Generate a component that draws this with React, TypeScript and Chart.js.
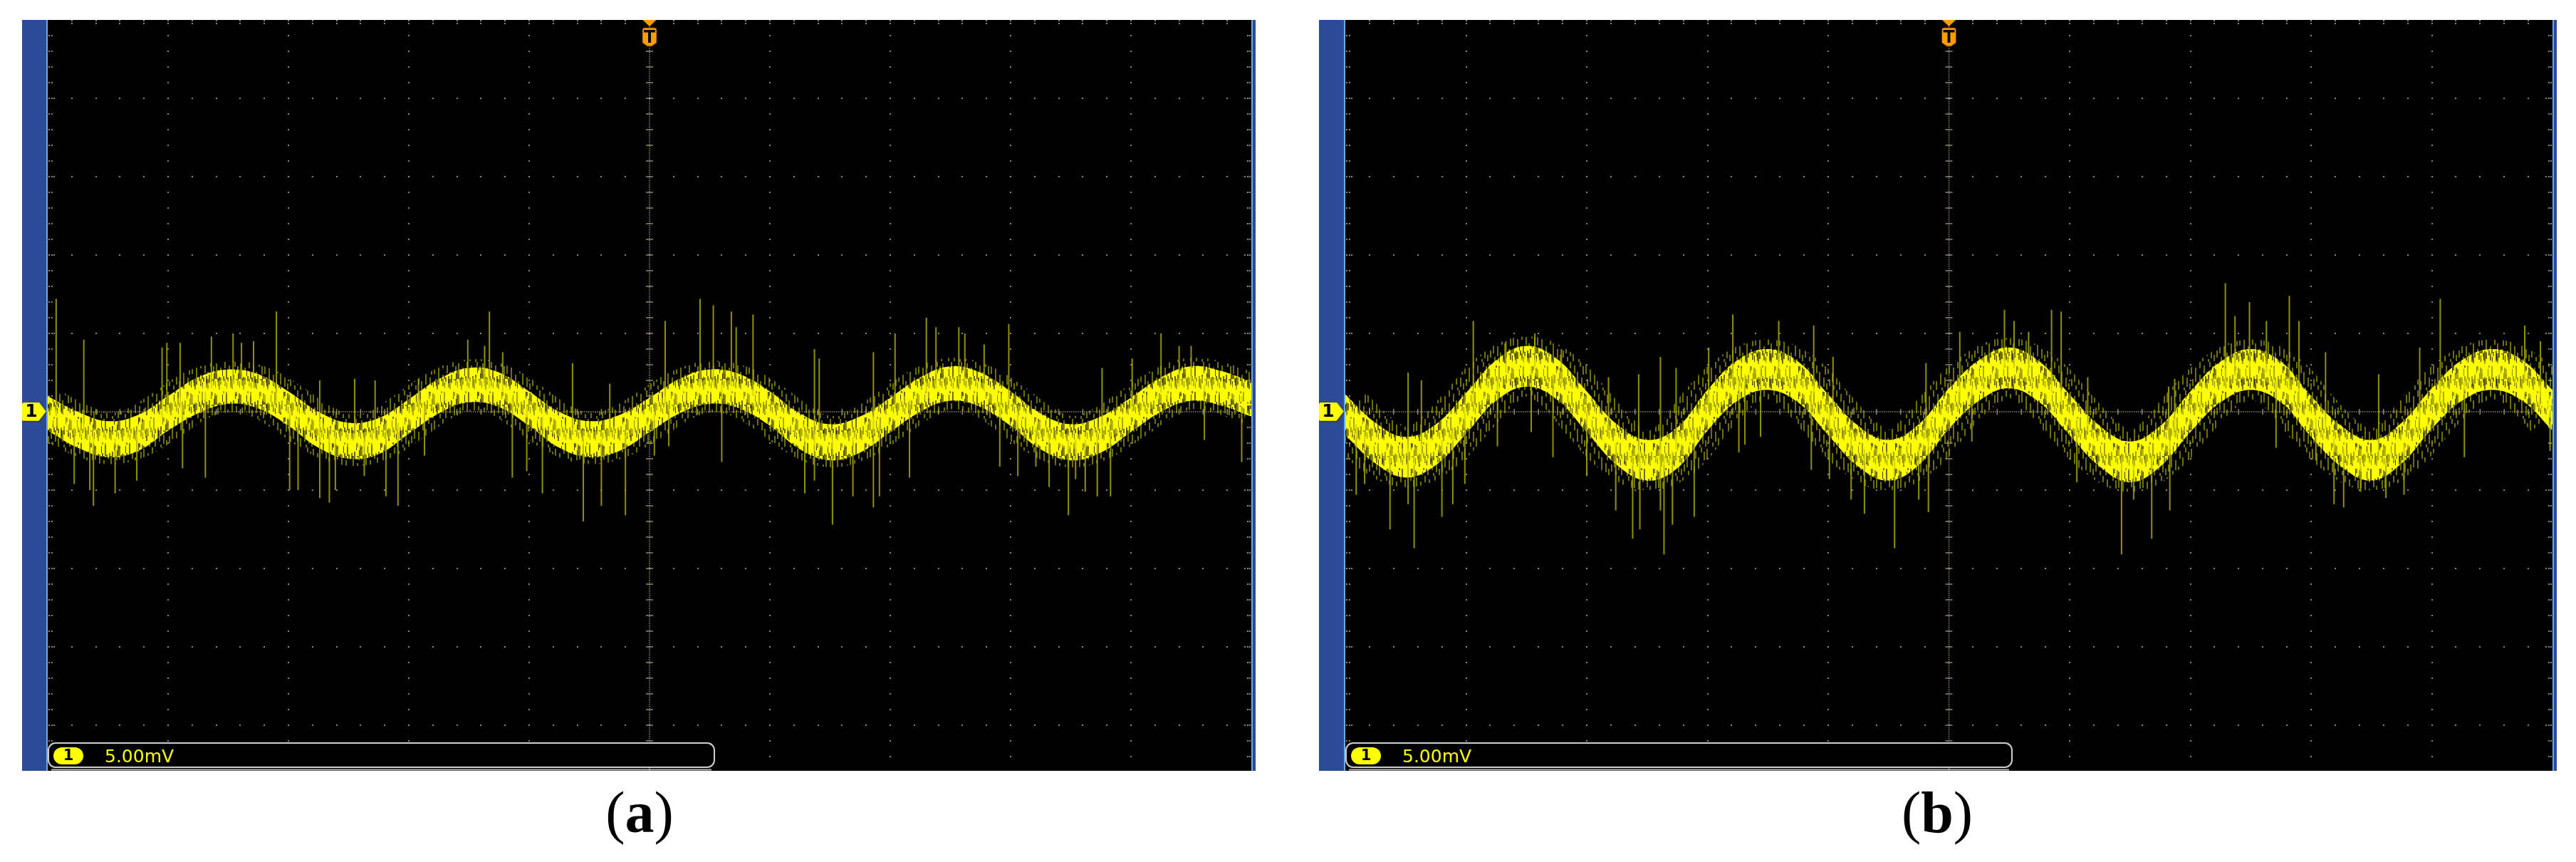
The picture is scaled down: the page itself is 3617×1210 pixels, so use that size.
import React, { useEffect, useRef } from "react";
import { Chart, registerables } from "chart.js";

Chart.register(...registerables);

// ---------------- data (x in divisions, y in mV; 5 mV/div) ----------------
const SAMPLE_X = [0, 0.25, 0.5, 0.75, 1, 1.25, 1.5, 1.75, 2, 2.25, 2.5, 2.75, 3, 3.25, 3.5, 3.75, 4, 4.25, 4.5, 4.75, 5, 5.25, 5.5, 5.75, 6, 6.25, 6.5, 6.75, 7, 7.25, 7.5, 7.75, 8, 8.25, 8.5, 8.75, 9, 9.25, 9.5, 9.75, 10];

// panel (a)
const A_CENTER = [-0.1, -1.1, -1.7, -1.3, -0.1, 1.1, 1.6, 1.3, 0.2, -1.1, -1.8, -1.5, -0.3, 1.0, 1.7, 1.4, 0.2, -1.1, -1.7, -1.3, -0.2, 1.0, 1.6, 1.3, 0.2, -1.2, -1.9, -1.4, -0.2, 1.1, 1.8, 1.4, 0.2, -1.2, -1.9, -1.4, -0.2, 1.1, 1.8, 1.5, 0.8];
const A_UPPER = [1.0, 0.0, -0.6, -0.2, 1.0, 2.2, 2.7, 2.4, 1.3, 0.0, -0.7, -0.4, 0.8, 2.1, 2.8, 2.5, 1.3, 0.0, -0.6, -0.2, 0.9, 2.1, 2.7, 2.4, 1.3, -0.1, -0.8, -0.3, 0.9, 2.2, 2.9, 2.5, 1.3, -0.1, -0.8, -0.3, 0.9, 2.2, 2.9, 2.6, 1.9];
const A_LOWER = [-1.2, -2.3, -2.9, -2.5, -1.2, -0.1, 0.5, 0.2, -0.9, -2.3, -3.0, -2.7, -1.4, -0.1, 0.6, 0.3, -0.9, -2.3, -2.9, -2.5, -1.3, -0.1, 0.5, 0.2, -0.9, -2.4, -3.1, -2.6, -1.3, 0.0, 0.7, 0.3, -0.9, -2.4, -3.1, -2.6, -1.3, 0.0, 0.7, 0.4, -0.3];
const A_SPIKE_X = [0.07, 0.22, 0.30, 0.35, 0.38, 0.56, 0.74, 0.95, 0.99, 1.10, 1.12, 1.31, 1.36, 1.54, 1.61, 1.71, 1.90, 2.01, 2.08, 2.26, 2.34, 2.39, 2.55, 2.63, 2.72, 2.81, 2.91, 3.08, 3.13, 3.49, 3.63, 3.67, 3.78, 3.86, 3.98, 4.11, 4.36, 4.45, 4.60, 4.67, 4.80, 5.04, 5.13, 5.16, 5.42, 5.53, 5.60, 5.68, 5.72, 5.86, 6.29, 6.37, 6.41, 6.52, 6.69, 6.86, 6.91, 7.04, 7.16, 7.30, 7.38, 7.57, 7.62, 7.78, 7.91, 7.985, 8.06, 8.21, 8.32, 8.48, 8.54, 8.62, 8.72, 8.76, 8.83, 9.01, 9.25, 9.40, 9.50, 9.61, 9.92];
const A_SPIKE_TOP = [7.2, -1.0, 4.6, -1.5, -1.6, -1.7, -1.3, 4.1, 4.4, 4.4, 0.5, 1.3, 4.8, 5.0, 4.4, 4.5, 6.4, 0.0, -0.4, 2.0, -1.4, -1.5, 2.1, -1.7, 2.0, -1.2, -0.7, 2.1, 0.4, 4.6, 4.2, 6.4, 3.8, 0.9, 0.4, -0.3, 3.1, -1.6, -1.7, 1.8, -1.5, -0.1, 5.8, 0.6, 7.2, 6.8, 1.7, 6.4, 5.4, 6.2, -1.2, 4.0, 3.4, -1.8, -1.6, 3.8, -0.7, 5.0, 0.8, 6.0, 5.4, 5.4, 5.0, 4.3, 0.6, 5.6, -0.2, -1.0, -1.4, -1.8, -1.8, -1.8, -1.6, 2.8, -1.2, 3.4, 5.0, 4.2, 4.2, 1.7, 1.0];
const A_SPIKE_BOTTOM = [-0.3, -4.6, -1.3, -5.0, -6.0, -5.2, -4.4, -0.4, -0.1, 0.4, -3.6, -4.2, 1.5, 1.7, 1.7, 1.5, 0.6, -5.0, -5.0, -5.5, -5.8, -5.0, -1.7, -4.1, -1.4, -5.4, -6.0, 0.1, -2.8, 1.7, 1.6, 1.5, 1.3, -4.2, -3.8, -5.2, -1.4, -7.0, -6.0, -1.6, -6.6, -2.8, 0.5, -2.2, 1.6, 1.7, -3.2, 1.6, 1.5, 1.0, -5.2, -4.4, -1.5, -7.2, -5.4, -6.1, -5.4, 0.2, -4.2, 1.3, 1.5, 1.8, 1.7, 1.3, -3.5, 0.2, -4.1, -3.5, -4.8, -6.6, -4.3, -5.1, -5.4, -1.5, -5.4, 0.0, 1.2, 1.6, 1.7, -1.8, -3.2];

// panel (b)
const B_CENTER = [-0.2, -2.0, -2.9, -2.1, -0.1, 2.0, 2.9, 2.1, 0.0, -2.1, -3.1, -2.3, 0.1, 2.0, 2.7, 1.9, -0.2, -2.2, -3.1, -2.1, 0.2, 2.0, 2.8, 1.9, -0.2, -2.2, -3.2, -2.2, 0.0, 1.9, 2.7, 1.9, -0.3, -2.2, -3.1, -2.0, 0.2, 2.0, 2.7, 2.0, 0.1];
const B_UPPER = [1.1, -0.7, -1.6, -0.8, 1.2, 3.3, 4.2, 3.4, 1.3, -0.8, -1.8, -1.0, 1.4, 3.3, 4.0, 3.2, 1.1, -0.9, -1.8, -0.8, 1.5, 3.3, 4.1, 3.2, 1.1, -0.9, -1.9, -0.9, 1.3, 3.2, 4.0, 3.2, 1.0, -0.9, -1.8, -0.7, 1.5, 3.3, 4.0, 3.3, 1.4];
const B_LOWER = [-1.5, -3.3, -4.2, -3.4, -1.4, 0.7, 1.6, 0.8, -1.3, -3.4, -4.4, -3.6, -1.2, 0.7, 1.4, 0.6, -1.5, -3.5, -4.4, -3.4, -1.1, 0.7, 1.5, 0.6, -1.5, -3.5, -4.5, -3.5, -1.3, 0.6, 1.4, 0.6, -1.6, -3.5, -4.4, -3.3, -1.1, 0.7, 1.4, 0.7, -1.2];
const B_SPIKE_X = [0.09, 0.16, 0.37, 0.52, 0.57, 0.63, 0.80, 0.89, 0.99, 1.06, 1.26, 1.33, 1.54, 1.57, 1.72, 1.79, 2.00, 2.18, 2.24, 2.38, 2.43, 2.44, 2.61, 2.64, 2.71, 2.74, 2.89, 3.01, 3.21, 3.26, 3.31, 3.44, 3.59, 3.86, 3.88, 4.01, 4.04, 4.19, 4.30, 4.55, 4.75, 4.81, 4.83, 5.09, 5.19, 5.46, 5.54, 5.66, 5.85, 5.93, 6.06, 6.15, 6.43, 6.53, 6.68, 6.82, 6.83, 6.87, 7.29, 7.37, 7.49, 7.63, 7.71, 7.82, 7.90, 8.04, 8.12, 8.19, 8.27, 8.41, 8.56, 8.62, 8.77, 8.90, 9.07, 9.27, 9.77, 9.90, 9.98];
const B_SPIKE_TOP = [-0.8, -1.4, -2.7, 2.5, -2.9, 2.0, -1.8, -1.0, -0.1, 5.8, 2.2, 4.5, 2.9, 5.0, 2.4, 4.0, 0.0, 2.2, -2.0, -2.7, 2.4, -2.8, 3.5, -2.8, -2.5, 2.8, -1.0, 4.1, 6.2, 2.1, 2.4, 2.9, 5.8, 1.2, 5.5, 0.0, 3.5, -1.6, -2.4, -3.0, -2.2, 3.1, -1.6, 5.1, 1.5, 6.5, 5.8, 5.1, 6.5, 6.4, -0.5, 2.2, -2.9, -3.1, -2.7, 1.6, -1.8, 2.1, 8.2, 6.1, 7.0, 5.8, 2.0, 7.4, 5.8, -0.4, 3.8, -1.7, -2.3, -3.0, 2.4, -3.0, -2.1, 4.1, 7.2, 2.0, 5.5, 4.5, 0.1];
const B_SPIKE_BOTTOM = [-5.3, -4.6, -7.5, -5.9, -8.7, -2.8, -6.7, -5.9, -4.6, 0.5, -2.2, 2.5, -1.3, 2.9, -2.9, 1.8, -4.1, -1.6, -6.3, -8.1, -2.8, -7.5, -6.3, -9.1, -7.2, -2.4, -6.7, 0.1, 1.8, -2.6, -2.1, -1.6, 2.8, -3.7, 1.1, -4.3, -0.2, -5.6, -6.5, -8.7, -5.6, -1.7, -6.4, 0.7, -1.9, 2.8, 2.8, 2.5, 1.3, 0.6, -4.5, -1.3, -9.1, -5.6, -8.1, -1.8, -6.3, -1.6, 1.7, 2.3, 2.7, 2.5, -2.3, 1.4, 0.6, -3.1, -1.1, -5.9, -6.1, -5.1, -3.0, -5.5, -5.3, -0.6, 0.6, -2.9, 1.9, 0.9, -2.5];

// text
const SCALE_LABEL = "5.00mV";
const CHANNEL_LABEL = "1";
const CAPTION_LETTERS = ["a", "b"];

// screen ranges
const X_MIN = 0;
const X_MAX = 10;
const Y_MAX = 25;
const Y_MIN = -22.91;
const TRACE_MARKER_MV = 0.45;

// ---------------- styling ----------------
const BLUE = "#2d4a98";
const LIGHT_BLUE = "#69acdf";
const DOT = "rgba(150,141,114,0.95)";
const YELLOW = "#ffff00";
const ORANGE = "#ff9c00";

// phosphor texture tiles: [x, y, length] vertical streaks (pure styling)
const HALO_TILE = { w: 34, h: 40, bg: "rgba(0,0,0,0)", color: "rgba(185,185,0,0.6)", streaks: [[0, 2, 15], [2, 24, 10], [6, 8, 20], [8, 33, 6], [12, 0, 9], [12, 18, 14], [16, 27, 12], [18, 5, 11], [22, 14, 18], [24, 36, 4], [26, 0, 7], [28, 22, 13], [30, 6, 12], [32, 30, 9]] };
const BAND_TILE = { w: 34, h: 36, bg: "rgba(150,150,0,0.72)", color: "#ffff00", streaks: [[0, 0, 22], [2, 5, 30], [4, 15, 18], [6, 8, 26], [8, 0, 36], [10, 3, 14], [10, 20, 12], [12, 10, 26], [14, 0, 18], [16, 4, 30], [18, 0, 36], [20, 12, 20], [22, 14, 22], [24, 6, 24], [26, 0, 36], [28, 2, 16], [28, 24, 12], [30, 9, 27], [32, 0, 20]] };
const BAND_GAPS = [[3, 0, 10], [9, 22, 10], [15, 5, 8], [21, 0, 9], [27, 18, 10], [31, 28, 8], [33, 3, 9]];

const CANVAS_TOP = 28;
const CANVAS_H = 1054;

interface Panel {
  center: number[];
  upper: number[];
  lower: number[];
  spikeX: number[];
  spikeTop: number[];
  spikeBottom: number[];
  canvasLeft: number;
  canvasWidth: number;
  padLeft: number;
  padRight: number;
  coreWidth: number;
  haloWidth: number;
}

const PANELS: Panel[] = [
  { center: A_CENTER, upper: A_UPPER, lower: A_LOWER, spikeX: A_SPIKE_X, spikeTop: A_SPIKE_TOP, spikeBottom: A_SPIKE_BOTTOM, canvasLeft: 31, canvasWidth: 1732, padLeft: 36, padRight: 6, coreWidth: 20, haloWidth: 72 },
  { center: B_CENTER, upper: B_UPPER, lower: B_LOWER, spikeX: B_SPIKE_X, spikeTop: B_SPIKE_TOP, spikeBottom: B_SPIKE_BOTTOM, canvasLeft: 1852, canvasWidth: 1738, padLeft: 37, padRight: 6, coreWidth: 24, haloWidth: 84 },
];

const CAPTION_CENTERS = [898, 2720];

const scopePlugin = {
  id: "scopeScreen",
  beforeDraw(chart: any) {
    const ctx = chart.ctx;
    const a = chart.chartArea;
    const w = chart.width;
    const h = chart.height;
    ctx.save();
    ctx.fillStyle = BLUE;
    ctx.fillRect(0, 0, a.left, h);
    ctx.fillRect(a.right, 0, w - a.right, h);
    ctx.fillStyle = LIGHT_BLUE;
    ctx.fillRect(a.left - 2, 0, 2, h);
    ctx.fillRect(a.right, 0, 2, h);
    ctx.fillStyle = "#000";
    ctx.fillRect(a.left, 0, a.right - a.left, h);
    ctx.restore();
  },
  beforeDatasetsDraw(chart: any) {
    const ctx = chart.ctx;
    const a = chart.chartArea;
    const xs = chart.scales.x;
    const ys = chart.scales.y;
    const px = (v: number) => xs.getPixelForValue(v);
    const py = (v: number) => ys.getPixelForValue(v);
    const dot = (x: number, y: number) => ctx.fillRect(Math.round(x - 1), Math.round(y - 1), 2, 2);
    ctx.save();
    ctx.beginPath();
    ctx.rect(a.left, a.top, a.right - a.left, a.bottom - a.top);
    ctx.clip();
    ctx.fillStyle = DOT;
    for (let d = 1; d <= 9; d++) {
      if (d === 5) continue;
      for (let mv = 24; mv >= -22; mv--) dot(px(d), py(mv));
    }
    for (let m = -4; m <= 4; m++) {
      if (m === 0) continue;
      const y = py(m * 5);
      for (let k = 1; k < 50; k++) dot(px(k * 0.2), y);
    }
    for (let k = 1; k < 50; k++) {
      const x = px(k * 0.2);
      dot(x, a.top + 1);
      dot(x, a.top + 4.5);
    }
    for (let mv = 24; mv >= -22; mv--) {
      const y = py(mv);
      dot(a.left + 2, y);
      dot(a.left + 5.5, y);
      dot(a.right - 2, y);
      dot(a.right - 5.5, y);
      if (mv % 5 === 0) {
        dot(a.left + 9, y);
        dot(a.right - 9, y);
      }
    }
    const cx = px(5);
    const cy = py(0);
    for (let y = a.top; y < a.bottom; y += 3) ctx.fillRect(cx - 0.75, y, 1.5, 1.5);
    for (let x = a.left; x < a.right; x += 3) ctx.fillRect(x, cy - 0.75, 1.5, 1.5);
    for (let mv = 24; mv >= -22; mv--) ctx.fillRect(cx - 5, py(mv) - 0.75, 10, 1.5);
    for (let k = 1; k < 50; k++) ctx.fillRect(px(k * 0.2) - 0.75, cy - 4, 1.5, 8);
    ctx.restore();
  },
  afterDatasetsDraw(chart: any) {
    const ctx = chart.ctx;
    const a = chart.chartArea;
    const xs = chart.scales.x;
    const ys = chart.scales.y;
    const cx = xs.getPixelForValue(5);
    const cy = ys.getPixelForValue(0);
    ctx.save();

    // trace end marker
    const my = ys.getPixelForValue(TRACE_MARKER_MV);
    ctx.fillStyle = YELLOW;
    ctx.beginPath();
    ctx.moveTo(a.right - 18, my);
    ctx.lineTo(a.right - 7, my - 7);
    ctx.lineTo(a.right - 7, my + 7);
    ctx.closePath();
    ctx.fill();
    ctx.fillRect(a.right - 8, my - 1, 8, 2);

    // trigger marker
    ctx.fillStyle = ORANGE;
    ctx.beginPath();
    ctx.moveTo(cx - 9.5, a.top);
    ctx.lineTo(cx + 9.5, a.top);
    ctx.lineTo(cx, a.top + 9);
    ctx.closePath();
    ctx.fill();
    const sx0 = cx - 10;
    const sx1 = cx + 10;
    const sy0 = a.top + 11;
    const sy1 = a.top + 32;
    const syb = a.top + 37;
    ctx.beginPath();
    ctx.moveTo(sx0 + 3, sy0);
    ctx.lineTo(sx1 - 3, sy0);
    ctx.quadraticCurveTo(sx1, sy0, sx1, sy0 + 3);
    ctx.lineTo(sx1, sy1);
    ctx.lineTo(cx + 3, syb);
    ctx.lineTo(cx - 3, syb);
    ctx.lineTo(sx0, sy1);
    ctx.lineTo(sx0, sy0 + 3);
    ctx.quadraticCurveTo(sx0, sy0, sx0 + 3, sy0);
    ctx.closePath();
    ctx.fill();
    ctx.strokeStyle = "#5a3600";
    ctx.lineWidth = 1;
    ctx.stroke();
    ctx.fillStyle = "#000";
    ctx.fillRect(cx - 8, a.top + 14, 16, 3.5);
    ctx.fillRect(cx - 2, a.top + 14, 4, 18);

    // channel marker on the blue strip
    const tipX = a.left - 2;
    ctx.beginPath();
    ctx.moveTo(3, cy - 13);
    ctx.lineTo(tipX - 10, cy - 13);
    ctx.lineTo(tipX, cy);
    ctx.lineTo(tipX - 10, cy + 13);
    ctx.lineTo(3, cy + 13);
    ctx.quadraticCurveTo(0, cy + 13, 0, cy + 10);
    ctx.lineTo(0, cy - 10);
    ctx.quadraticCurveTo(0, cy - 13, 3, cy - 13);
    ctx.closePath();
    ctx.fillStyle = YELLOW;
    ctx.fill();
    ctx.strokeStyle = "#3a3a10";
    ctx.lineWidth = 1.5;
    ctx.beginPath();
    ctx.moveTo(2, cy + 13.5);
    ctx.lineTo(tipX - 10, cy + 13.5);
    ctx.lineTo(tipX, cy + 0.5);
    ctx.stroke();
    ctx.fillStyle = "#000";
    ctx.font = 'bold 25px "DejaVu Sans"';
    ctx.textAlign = "center";
    ctx.textBaseline = "middle";
    ctx.fillText(CHANNEL_LABEL, 13, cy + 1);

    // info bar at the bottom
    const bx = a.left;
    const bw = 935;
    const by0 = a.bottom - 39;
    const by1 = a.bottom - 5;
    ctx.fillStyle = "#000";
    ctx.beginPath();
    ctx.roundRect(bx + 1, by0, bw, by1 - by0, 10);
    ctx.fill();
    ctx.strokeStyle = "#cfcfcf";
    ctx.lineWidth = 2;
    ctx.stroke();
    ctx.strokeStyle = "#b8b8b8";
    ctx.beginPath();
    ctx.moveTo(bx + 5, a.bottom - 1.5);
    ctx.lineTo(bx + bw - 3, a.bottom - 1.5);
    ctx.stroke();
    ctx.fillStyle = YELLOW;
    ctx.beginPath();
    ctx.roundRect(bx + 8, by0 + 6, 42, 24, 12);
    ctx.fill();
    ctx.fillStyle = "#000";
    ctx.font = 'bold 21px "DejaVu Sans"';
    ctx.textAlign = "center";
    ctx.textBaseline = "middle";
    ctx.fillText(CHANNEL_LABEL, bx + 29, by0 + 18.5);
    ctx.fillStyle = YELLOW;
    ctx.font = '25px "DejaVu Sans"';
    ctx.textAlign = "left";
    ctx.textBaseline = "alphabetic";
    ctx.fillText(SCALE_LABEL, bx + 80, a.bottom - 12);
    ctx.restore();
  },
};

function makeTile(tile: { w: number; h: number; bg: string; color: string; streaks: number[][] }, gaps?: number[][]): CanvasPattern | string {
  const c = document.createElement("canvas");
  c.width = tile.w;
  c.height = tile.h;
  const g = c.getContext("2d");
  if (!g) return tile.color;
  g.fillStyle = tile.bg;
  g.fillRect(0, 0, tile.w, tile.h);
  g.fillStyle = tile.color;
  tile.streaks.forEach(([x, y, len]) => g.fillRect(x, y, 2, len));
  if (gaps) {
    g.fillStyle = "rgba(0,0,0,0.75)";
    gaps.forEach(([x, y, len]) => g.fillRect(x, y, 1, len));
  }
  const p = g.createPattern(c, "repeat");
  return p || tile.color;
}

function ScopePanel({ panel }: { panel: Panel }) {
  const ref = useRef<HTMLCanvasElement>(null);
  useEffect(() => {
    const canvas = ref.current;
    if (!canvas) return;
    const pts = (arr: number[]) => arr.map((v, i) => ({ x: SAMPLE_X[i], y: v }));
    const spikes: any[] = [];
    panel.spikeX.forEach((x, i) => {
      spikes.push({ x, y: panel.spikeTop[i] });
      spikes.push({ x, y: panel.spikeBottom[i] });
      spikes.push({ x, y: null });
    });
    const chart = new Chart(canvas, {
      type: "line",
      data: {
        datasets: [
          { label: "fringe", data: pts(panel.center), borderColor: makeTile(HALO_TILE), borderWidth: panel.haloWidth, tension: 0.4, pointRadius: 0, fill: false, order: 6, clip: 0 } as any,
          { label: "upper", data: pts(panel.upper), borderColor: "rgba(0,0,0,0)", borderWidth: 0, backgroundColor: makeTile(BAND_TILE, BAND_GAPS), tension: 0.4, pointRadius: 0, fill: "+1", order: 5, clip: 0 } as any,
          { label: "lower", data: pts(panel.lower), borderColor: "rgba(0,0,0,0)", borderWidth: 0, tension: 0.4, pointRadius: 0, fill: false, order: 5, clip: 0 } as any,
          { label: "spikes", data: spikes, borderColor: "rgba(170,170,0,0.85)", borderWidth: 2, tension: 0, pointRadius: 0, spanGaps: false, fill: false, order: 3, clip: 0 } as any,
          { label: "core", data: pts(panel.center), borderColor: "rgba(255,255,0,0.4)", borderWidth: panel.coreWidth, tension: 0.4, pointRadius: 0, fill: false, order: 2, clip: 0 } as any,
        ],
      },
      options: {
        responsive: false,
        maintainAspectRatio: false,
        animation: false,
        devicePixelRatio: 1,
        events: [],
        layout: { padding: { left: panel.padLeft, right: panel.padRight, top: 0, bottom: 0 } },
        scales: {
          x: { type: "linear", min: X_MIN, max: X_MAX, display: false },
          y: { type: "linear", min: Y_MIN, max: Y_MAX, display: false },
        },
        plugins: { legend: { display: false }, tooltip: { enabled: false } },
      },
      plugins: [scopePlugin],
    } as any);
    return () => chart.destroy();
  }, [panel]);
  return (
    <canvas
      ref={ref}
      width={panel.canvasWidth}
      height={CANVAS_H}
      style={{ position: "absolute", left: panel.canvasLeft, top: CANVAS_TOP, width: panel.canvasWidth, height: CANVAS_H }}
    />
  );
}

export default function App() {
  return (
    <div style={{ position: "absolute", left: 0, top: 0, width: 3617, height: 1210, background: "#fff", overflow: "hidden" }}>
      {PANELS.map((p, i) => (
        <ScopePanel key={i} panel={p} />
      ))}
      {CAPTION_LETTERS.map((c, i) => (
        <div
          key={c}
          style={{
            position: "absolute",
            left: CAPTION_CENTERS[i] - 150,
            width: 300,
            top: 1100,
            textAlign: "center",
            fontFamily: '"Liberation Serif", "DejaVu Serif", serif',
            fontSize: 82,
            lineHeight: "82px",
            color: "#000",
          }}
        >
          (<b>{c}</b>)
        </div>
      ))}
    </div>
  );
}
